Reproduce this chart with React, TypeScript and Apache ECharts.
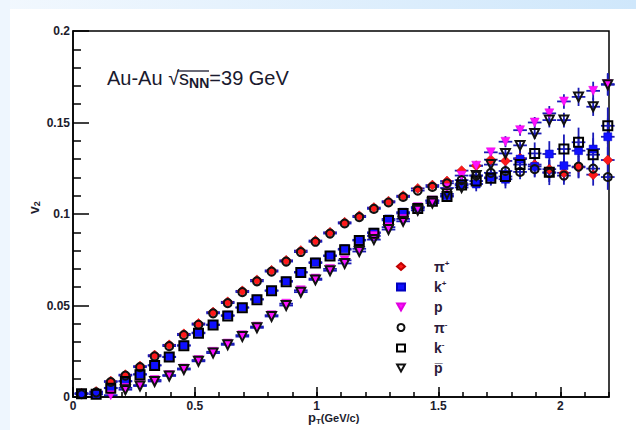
import React, { useEffect, useRef } from "react";
import * as echarts from "echarts";

const PT = [0.035,0.095,0.155,0.215,0.275,0.335,0.395,0.455,0.515,0.575,0.635,0.695,0.755,0.815,0.875,0.935,0.995,1.055,1.115,1.175,1.235,1.295,1.355,1.415,1.475,1.535,1.595,1.655,1.715,1.775,1.835,1.895,1.955,2.015,2.075,2.135,2.195];

const PI_PLUS = [0.002,0.003,0.0087,0.0122,0.0169,0.0229,0.0285,0.0345,0.0402,0.0464,0.052,0.058,0.064,0.0692,0.0747,0.080,0.0855,0.090,0.0955,0.099,0.1035,0.107,0.110,0.114,0.1158,0.118,0.1237,0.1264,0.1297,0.129,0.1305,0.127,0.1245,0.1225,0.1255,0.1215,0.1295];
const PI_MINUS = [0.0015,0.0025,0.0082,0.0117,0.0163,0.0222,0.0278,0.0338,0.0395,0.0457,0.0513,0.0573,0.0632,0.0685,0.074,0.0792,0.0848,0.0893,0.0948,0.0983,0.1028,0.1063,0.1093,0.1128,0.1148,0.1168,0.1185,0.121,0.1225,0.1235,0.123,0.1245,0.1225,0.121,0.1259,0.1248,0.1202];
const K_PLUS = [0.002,0.0015,0.005,0.0087,0.0125,0.0174,0.022,0.0283,0.0352,0.0396,0.0447,0.049,0.0535,0.0583,0.0634,0.0683,0.0737,0.0774,0.081,0.0859,0.090,0.0973,0.101,0.1037,0.1074,0.110,0.1164,0.1164,0.120,0.119,0.130,0.126,0.1328,0.1264,0.1346,0.1355,0.1422];
const K_MINUS = [0.0018,0.0015,0.0048,0.0085,0.0122,0.0172,0.0218,0.028,0.0348,0.0393,0.0443,0.0488,0.0532,0.058,0.063,0.068,0.0732,0.077,0.0805,0.0855,0.0895,0.0965,0.1003,0.103,0.107,0.1095,0.1158,0.118,0.1195,0.1205,0.127,0.1331,0.1228,0.1355,0.1392,0.1324,0.1482];
const PROTON = [null,null,0.001,0.005,0.0065,0.0093,0.012,0.0156,0.0202,0.0247,0.0292,0.0338,0.0385,0.0447,0.051,0.0583,0.0647,0.070,0.0747,0.081,0.088,0.0928,0.0973,0.1037,0.1074,0.1142,0.121,0.1264,0.1337,0.1395,0.1458,0.150,0.155,0.1615,null,0.1673,0.171];
const PBAR = [null,null,null,0.004,0.006,0.0085,0.0115,0.015,0.0195,0.024,0.0285,0.033,0.0378,0.044,0.050,0.0573,0.064,0.069,0.073,0.0795,0.086,0.0915,0.096,0.102,0.106,0.111,0.1145,0.121,0.127,0.1331,0.1375,0.144,0.1513,0.1513,0.164,0.1586,0.1706];

const ERR_PI = [0.001,0.001,0.001,0.001,0.001,0.001,0.001,0.001,0.001,0.001,0.001,0.001,0.001,0.001,0.001,0.001,0.001,0.001,0.001,0.001,0.001,0.001,0.001,0.001,0.001,0.001,0.002,0.002,0.003,0.003,0.004,0.004,0.005,0.005,0.006,0.006,0.007];
const ERR_K = [0.001,0.001,0.001,0.001,0.001,0.001,0.001,0.001,0.001,0.001,0.001,0.001,0.001,0.001,0.001,0.001,0.001,0.001,0.001,0.001,0.001,0.001,0.001,0.002,0.002,0.003,0.003,0.004,0.004,0.005,0.006,0.006,0.007,0.008,0.008,0.009,0.010];
const ERR_P = [0.001,0.001,0.001,0.001,0.001,0.001,0.001,0.001,0.001,0.001,0.001,0.001,0.001,0.001,0.001,0.001,0.001,0.001,0.001,0.001,0.001,0.001,0.001,0.001,0.001,0.001,0.002,0.002,0.002,0.003,0.003,0.003,0.004,0.004,0.005,0.005,0.006];

const X_ERR = 0.028;
const X_TICKS = ["0", "0.5", "1", "1.5", "2"];

const TRI_DOWN = "path://M0,0 L10,0 L5,9 Z";

type Spec = { name: string; values: (number | null)[]; err: number[]; symbol: string; size: number; fill: string; stroke: string; bw: number };

const SPECIES: Spec[] = [
  { name: "pi+", values: PI_PLUS, err: ERR_PI, symbol: "diamond", size: 10, fill: "#ff1a1a", stroke: "#c00000", bw: 0.5 },
  { name: "k+", values: K_PLUS, err: ERR_K, symbol: "rect", size: 8, fill: "#1010ff", stroke: "#0000c0", bw: 0.5 },
  { name: "p", values: PROTON, err: ERR_P, symbol: TRI_DOWN, size: 9, fill: "#ff10ff", stroke: "#e000e0", bw: 0.5 },
  { name: "pi-", values: PI_MINUS, err: ERR_PI, symbol: "circle", size: 8, fill: "transparent", stroke: "#111", bw: 2 },
  { name: "k-", values: K_MINUS, err: ERR_K, symbol: "rect", size: 9, fill: "transparent", stroke: "#000", bw: 2 },
  { name: "pbar", values: PBAR, err: ERR_P, symbol: TRI_DOWN, size: 9, fill: "transparent", stroke: "#111", bw: 2 },
];

const LEGEND_TEXT: Record<string, string> = {
  "pi+": "{sp|}{a|π}{s|+}",
  "k+": "{sp|}{a|k}{s|+}",
  "p": "{sp|}{a|p}",
  "pi-": "{sp|}{a|π}{s|-}",
  "k-": "{sp|}{a|k}{s|-}",
  "pbar": "{sp|}{a|p\u0305}",
};

export default function App() {
  const ref = useRef<HTMLDivElement>(null);
  useEffect(() => {
    if (!ref.current) return;
    const chart = echarts.init(ref.current, undefined, { renderer: "svg" });
    const errSeries = SPECIES.map((s) => ({
      type: "custom",
      name: s.name + "_err",
      xAxisIndex: 0,
      yAxisIndex: 0,
      z: 2,
      silent: true,
      data: PT.map((x, i) => (s.values[i] == null ? null : [x, s.values[i], s.err[i]])).filter((d) => d != null),
      renderItem: (params: any, api: any) => {
        const x = api.value(0);
        const y = api.value(1);
        const e = api.value(2);
        const a = api.coord([x - X_ERR, y]);
        const b = api.coord([x + X_ERR, y]);
        const c = api.coord([x, y - e]);
        const d = api.coord([x, y + e]);
        const style = { stroke: "#1a1ab8", lineWidth: 1.8 };
        return {
          type: "group",
          children: [
            { type: "line", shape: { x1: a[0], y1: a[1], x2: b[0], y2: b[1] }, style },
            { type: "line", shape: { x1: c[0], y1: c[1], x2: d[0], y2: d[1] }, style },
          ],
        };
      },
    }));
    const pointSeries = SPECIES.map((s, k) => ({
      type: "scatter",
      name: s.name,
      xAxisIndex: 0,
      yAxisIndex: 0,
      z: 3 + k,
      symbol: s.symbol,
      symbolSize: s.size,
      itemStyle: { color: s.fill, borderColor: s.stroke, borderWidth: s.bw, opacity: 1 },
      data: PT.map((x, i) => (s.values[i] == null ? null : [x, s.values[i]])).filter((d) => d != null),
    }));

    const labelFont = { color: "#1c1c2c", fontSize: 12, fontWeight: "bold" as const, fontFamily: "Liberation Sans, Arial, sans-serif" };
    const option: any = {
      animation: false,
      backgroundColor: "#ffffff",
      grid: { left: 73, right: 27, top: 31, bottom: 33, show: true, borderColor: "#000", borderWidth: 1.5, backgroundColor: "#fff" },
      xAxis: [
        {
          type: "value", min: 0, max: 2.2, interval: 0.5, position: "bottom",
          axisLine: { show: true, onZero: false, lineStyle: { color: "#000", width: 1.5 } },
          axisTick: { show: true, inside: true, length: 10, lineStyle: { color: "#000", width: 1.5 } },
          splitLine: { show: false },
          axisLabel: { ...labelFont, margin: 3, showMaxLabel: false, formatter: (v: number) => { const i = Math.round(v / 0.5); return X_TICKS[i] ?? ""; } },
        },
        {
          type: "value", min: 0, max: 2.2, interval: 0.1, position: "bottom", offset: 0,
          axisLine: { show: false },
          axisTick: { show: true, inside: true, length: 5, lineStyle: { color: "#000", width: 1.5 } },
          splitLine: { show: false },
          axisLabel: { show: false },
        },
      ],
      yAxis: {
        type: "value", min: 0, max: 0.2, interval: 0.05,
        axisLine: { show: true, onZero: false, lineStyle: { color: "#000", width: 1.5 } },
        axisTick: { show: true, inside: true, length: 16, lineStyle: { color: "#000", width: 1.5 } },
        minorTick: { show: true, splitNumber: 5, length: 8, lineStyle: { color: "#000", width: 1.5 } },
        splitLine: { show: false },
        minorSplitLine: { show: false },
        axisLabel: { ...labelFont, margin: 3 },
      },
      legend: {
        orient: "vertical",
        left: 391,
        top: 254,
        itemWidth: 8,
        itemHeight: 7,
        itemGap: 6,
        data: SPECIES.map((s) => s.name),
        formatter: (n: string) => LEGEND_TEXT[n],
        textStyle: {
          rich: {
            sp: { width: 24 },
            a: { fontSize: 14, fontWeight: "bold", color: "#2a1a3a", fontFamily: "Liberation Sans, Arial, sans-serif", lineHeight: 15 },
            s: { fontSize: 8, fontWeight: "bold", color: "#2a1a3a", verticalAlign: "top", lineHeight: 15, padding: [0, 0, 6, 0] },
          },
        },
      },
      graphic: [
        { type: "rect", z: -10, silent: true, shape: { x: 0, y: 0, width: 636, height: 9 }, style: { fill: new echarts.graphic.LinearGradient(0, 0, 1, 0, [{ offset: 0, color: "#f2f8fe" }, { offset: 1, color: "#cfe7fb" }]) } },
        { type: "rect", z: -10, silent: true, shape: { x: 0, y: 0, width: 10, height: 430 }, style: { fill: "#eef6fe" } },
        {
          type: "text", left: 107, top: 68, z: 100,
          style: {
            text: "{a|Au-Au }{a|√}{a|s}{n|NN}{a|=39 GeV}",
            rich: {
              a: { fontSize: 20, fill: "#1a1a2e", fontFamily: "Liberation Sans, Arial, sans-serif" },
              n: { fontSize: 14, fill: "#1a1a2e", fontFamily: "Liberation Sans, Arial, sans-serif", fontWeight: "bold", padding: [9, 0, 0, 0] },
            },
          },
        },
        { type: "line", z: 100, shape: { x1: 177, y1: 71, x2: 209, y2: 71 }, style: { stroke: "#1a1a2e", lineWidth: 1.3 } },
        {
          type: "text", left: 308, top: 411, z: 100,
          style: {
            text: "{p|p}{t|T}{g|(GeV/c)}",
            rich: {
              p: { fontSize: 13, fill: "#1c1c2c", fontFamily: "Liberation Sans, Arial, sans-serif", fontWeight: "bold" },
              t: { fontSize: 8, fill: "#1c1c2c", fontFamily: "Liberation Sans, Arial, sans-serif", fontWeight: "bold", padding: [8, 0, 0, 0] },
              g: { fontSize: 11, fill: "#1c1c2c", fontFamily: "Liberation Sans, Arial, sans-serif", fontWeight: "bold" },
            },
          },
        },
        {
          type: "text", x: 34, y: 214, rotation: Math.PI / 2, z: 100,
          style: {
            text: "{v|v}{s|2}",
            align: "left",
            verticalAlign: "middle",
            rich: {
              v: { fontSize: 14, fill: "#1c1c2c", fontFamily: "Liberation Sans, Arial, sans-serif", fontWeight: "bold" },
              s: { fontSize: 9, fill: "#1c1c2c", fontFamily: "Liberation Sans, Arial, sans-serif", fontWeight: "bold", padding: [6, 0, 0, 0] },
            },
          },
        },
      ],
      series: [...errSeries, ...pointSeries],
    };
    chart.setOption(option);
    return () => chart.dispose();
  }, []);
  return <div ref={ref} style={{ position: "fixed", left: 0, top: 0, width: 636, height: 430 }} />;
}
